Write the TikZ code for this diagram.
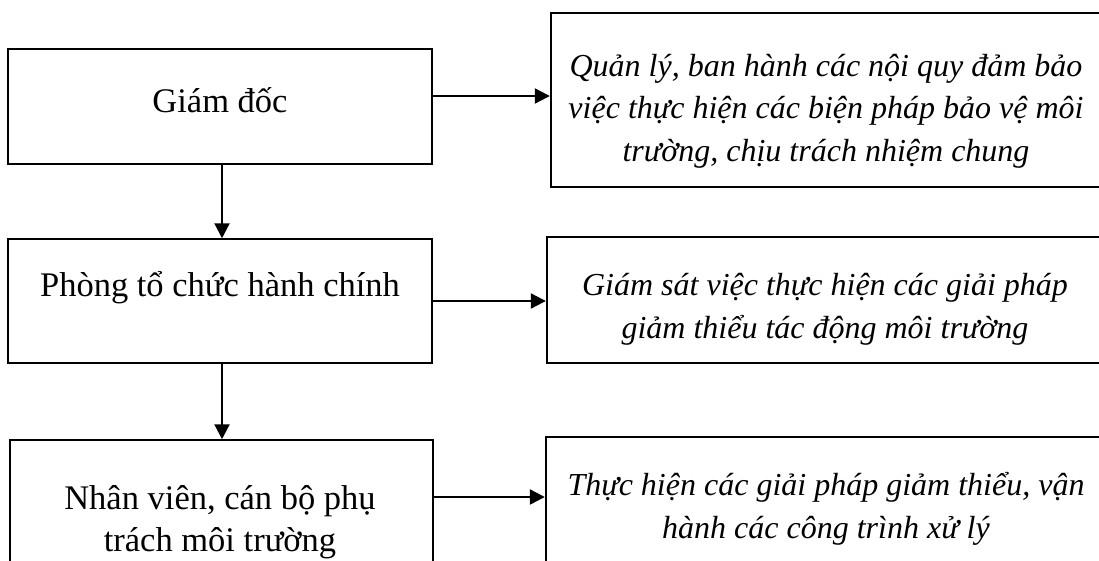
\documentclass[tikz,border=0pt]{standalone}
\usepackage{fontspec}
\setmainfont{Liberation Serif}
\usetikzlibrary{arrows.meta,calc}
\begin{document}
\begin{tikzpicture}[x=1pt,y=-1pt,
  leftbox/.style={draw=black,line width=1.5pt,inner sep=0pt},
  rightbox/.style={draw=black,line width=2.4pt,inner sep=0pt},
  lbl/.style={font=\fontsize{34.5}{42}\selectfont,align=center,inner sep=0pt,anchor=base},
  ilbl/.style={font=\fontsize{32}{42.5}\selectfont\itshape,align=center,inner sep=0pt,anchor=base},
  arr/.style={line width=2.2pt,-{Triangle[length=15pt,width=15pt]}}]
\useasboundingbox (0,0) rectangle (1099,560);
% left boxes
\node[leftbox,minimum width=424pt,minimum height=115pt] (b1) at (220,106.5) {};
\node[leftbox,minimum width=424pt,minimum height=124pt] (b2) at (220,301) {};
\node[leftbox,minimum width=423pt,minimum height=150pt] (b3) at (221.5,515) {};
% right boxes
\node[rightbox,minimum width=570pt,minimum height=174pt] (r1) at (836,100) {};
\node[rightbox,minimum width=574pt,minimum height=126pt] (r2) at (834,300) {};
\node[rightbox,minimum width=575pt,minimum height=150pt] (r3) at (833.5,512) {};
% texts
\node[lbl] (t1) at (220,112) {Giám đốc};
\node[lbl] (t2) at (220,296) {Phòng tổ chức hành chính};
\node[lbl] (t3) at (220,551) {Nhân viên, cán bộ phụ\\trách môi trường};
\node[ilbl] (u1) at (826,161) {Quản lý, ban hành các nội quy đảm bảo\\việc thực hiện các biện pháp bảo vệ môi\\trường, chịu trách nhiệm chung};
\node[ilbl] (u2) at (825,338) {Giám sát việc thực hiện các giải pháp\\giảm thiểu tác động môi trường};
\node[ilbl] (u3) at (826,538) {Thực hiện các giải pháp giảm thiểu, vận\\hành các công trình xử lý};
% connectors
\draw[arr] ([yshift=10.5pt]b1.east) coordinate (a1) -- (a1 -| r1.west);
\draw[arr] (b2.east) -- (b2.east -| r2.west);
\draw[arr] ([yshift=18pt]b3.east) coordinate (a3) -- (a3 -| r3.west);
\draw[arr] ([xshift=2pt]b1.south) coordinate (v1) -- (v1 |- b2.north);
\draw[arr] ([xshift=2pt]b2.south) coordinate (v2) -- (v2 |- b3.north);
\end{tikzpicture}
\end{document}
